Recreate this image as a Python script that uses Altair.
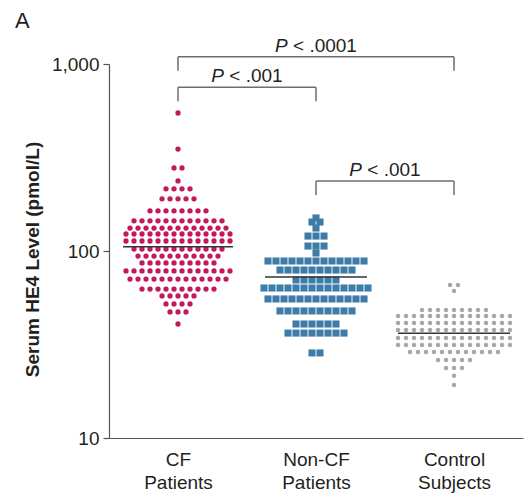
import altair as alt
import pandas as pd

# ---------------- data ----------------
categories = ["CF Patients", "Non-CF Patients", "Control Subjects"]

# values (pmol/L) of each horizontal row of dots, and how many dots share that row
cf_row_values = [547, 351, 278, 237, 215, 190, 164, 145, 132.7, 123.3, 113.1, 102.5,
                 94.0, 86.3, 78.2, 70.8, 62.6, 57.5, 52.1, 47.2, 40.7]
cf_row_counts = [1, 1, 2, 1, 4, 5, 8, 12, 13, 14, 14, 12, 11, 10, 14, 13, 10, 5, 4, 3, 1]

noncf_row_values = [150.2, 142.9, 132.7, 120.2, 106.3, 97.6, 88.4, 79.1, 70.0, 63.4,
                    55.4, 47.8, 40.7, 36.4, 28.5]
noncf_row_counts = [1, 2, 1, 3, 3, 1, 13, 10, 6, 14, 13, 10, 6, 8, 2]

control_row_values = [65.8, 61.1, 48.4, 44.9, 41.2, 37.8, 34.3, 31.4, 28.8, 26.1,
                      23.7, 21.5, 19.2]
control_row_counts = [2, 1, 9, 15, 15, 15, 15, 15, 12, 5, 3, 1, 1]

medians = [105.4, 72.6, 36.3]

bracket_from = [0, 0, 1]
bracket_to = [2, 1, 2]
bracket_level = [1094, 751, 237]
bracket_p = ["< .0001", "< .001", "< .001"]

# ---------------- layout constants ----------------
W, H = 414, 374
PPU = W / 3.0          # pixels per x unit (one group)
PPD = H / 2.0          # pixels per decade on the y axis
FONT = "Liberation Sans"
TXT = "#231f20"
FS = 19

def beeswarm(values, counts, gi, spacing_px):
    rows = []
    c = gi + 0.5
    for v, n in zip(values, counts):
        for i in range(n):
            off = (i - (n - 1) / 2.0) * spacing_px / PPU
            rows.append({"x": c + off, "v": v, "group": categories[gi]})
    return pd.DataFrame(rows)

df_cf = beeswarm(cf_row_values, cf_row_counts, 0, 8)
df_ncf = beeswarm(noncf_row_values, noncf_row_counts, 1, 8)
df_ctl = beeswarm(control_row_values, control_row_counts, 2, 8)

half = [55, 51, 56]
df_med = pd.DataFrame({
    "x1": [i + 0.5 - half[i] / PPU for i in range(3)],
    "x2": [i + 0.5 + half[i] / PPU for i in range(3)],
    "v": medians,
})

drop = 10 ** (-14 / PPD)
lift = 10 ** (5 / PPD)
df_br = pd.DataFrame({
    "x1": [a + 0.5 for a in bracket_from],
    "x2": [b + 0.5 for b in bracket_to],
    "top": bracket_level,
    "bot": [t * drop for t in bracket_level],
    "ty": [t * lift for t in bracket_level],
})
cw = {"P": .667, " ": .278, "<": .584, ".": .278, "0": .556, "1": .556}
left, rest_x = [], []
for a, b, p in zip(bracket_from, bracket_to, bracket_p):
    full = "P " + p
    wpx = sum(cw[ch] for ch in full) * FS
    mid = (a + b) / 2.0 + 0.5
    lx = mid - wpx / 2.0 / PPU
    left.append(lx)
    rest_x.append(lx + (cw["P"] + cw[" "]) * FS / PPU)
df_br["lx"] = left
df_br["rx"] = rest_x
df_br["p"] = bracket_p

xscale = alt.Scale(domain=[0, 3], nice=False, zero=False)
yscale = alt.Scale(type="log", domain=[10, 1000], nice=False)

label_expr = ("datum.value < 1 ? " + str(categories[0].split(" ")) +
              " : datum.value < 2 ? " + str(categories[1].split(" ")) +
              " : " + str(categories[2].split(" ")))

xaxis = alt.Axis(values=[0.5, 1.5, 2.5], labelExpr=label_expr, title=None, ticks=False,
                 grid=False, domainColor="#555555", domainWidth=1.2, labelFont=FONT,
                 labelFontSize=FS, labelColor=TXT, labelPadding=12, labelLineHeight=23,
                 labelFlush=False, labelOverlap=False, labelBound=False)
yaxis = alt.Axis(values=[10, 100, 1000], format=",", title="Serum HE4 Level (pmol/L)",
                 titleFont=FONT, titleFontSize=19, titleFontWeight="bold", titleColor=TXT,
                 titlePadding=9, titleY=H / 2 + 8, tickSize=6, tickColor="#555555",
                 tickWidth=1.2, domainColor="#555555", domainWidth=1.2, grid=False,
                 labelFont=FONT, labelFontSize=FS, labelColor=TXT, labelPadding=4)

def X(f, ax=None):
    if ax is None:
        return alt.X(f, type="quantitative", scale=xscale)
    return alt.X(f, type="quantitative", scale=xscale, axis=ax)

def Y(f, ax=None):
    if ax is None:
        return alt.Y(f, type="quantitative", scale=yscale)
    return alt.Y(f, type="quantitative", scale=yscale, axis=ax)

cf = alt.Chart(df_cf).mark_circle(size=28, color="#c4185c", opacity=1).encode(
    x=X("x", xaxis), y=Y("v", yaxis))
ncf = alt.Chart(df_ncf).mark_square(size=50, color="#3d7ca8", opacity=1).encode(
    x=X("x"), y=Y("v"))
ctl = alt.Chart(df_ctl).mark_circle(size=20, color="#a6a8ab", opacity=1).encode(
    x=X("x"), y=Y("v"))

med = alt.Chart(df_med).mark_rule(color="#333333", strokeWidth=1.5).encode(
    x=X("x1"), x2="x2", y=Y("v"))

rule_style = dict(color="#6d6e71", strokeWidth=1.5)
br_h = alt.Chart(df_br).mark_rule(**rule_style).encode(x=X("x1"), x2="x2", y=Y("top"))
br_l = alt.Chart(df_br).mark_rule(**rule_style).encode(x=X("x1"), y=Y("top"), y2="bot")
br_r = alt.Chart(df_br).mark_rule(**rule_style).encode(x=X("x2"), y=Y("top"), y2="bot")

p_txt = alt.Chart(df_br).mark_text(text="P", fontStyle="italic", font=FONT, fontSize=FS,
                                   color=TXT, align="left", baseline="alphabetic").encode(
    x=X("lx"), y=Y("ty"))
r_txt = alt.Chart(df_br).mark_text(font=FONT, fontSize=FS, color=TXT, align="left",
                                   baseline="alphabetic").encode(
    x=X("rx"), y=Y("ty"), text="p:N")

chart = alt.layer(cf, ncf, ctl, med, br_h, br_l, br_r, p_txt, r_txt).properties(
    width=W, height=H,
    autosize=alt.AutoSizeParams(type="none"),
    padding={"left": 109, "top": 64, "right": 5, "bottom": 58},
    title=alt.TitleParams("A", anchor="start", frame="group", fontSize=22,
                          fontWeight="normal", font=FONT, color=TXT, dx=-94),
).configure_view(stroke=None)

chart.save("out.html", embed_options={"renderer": "svg", "actions": False})
